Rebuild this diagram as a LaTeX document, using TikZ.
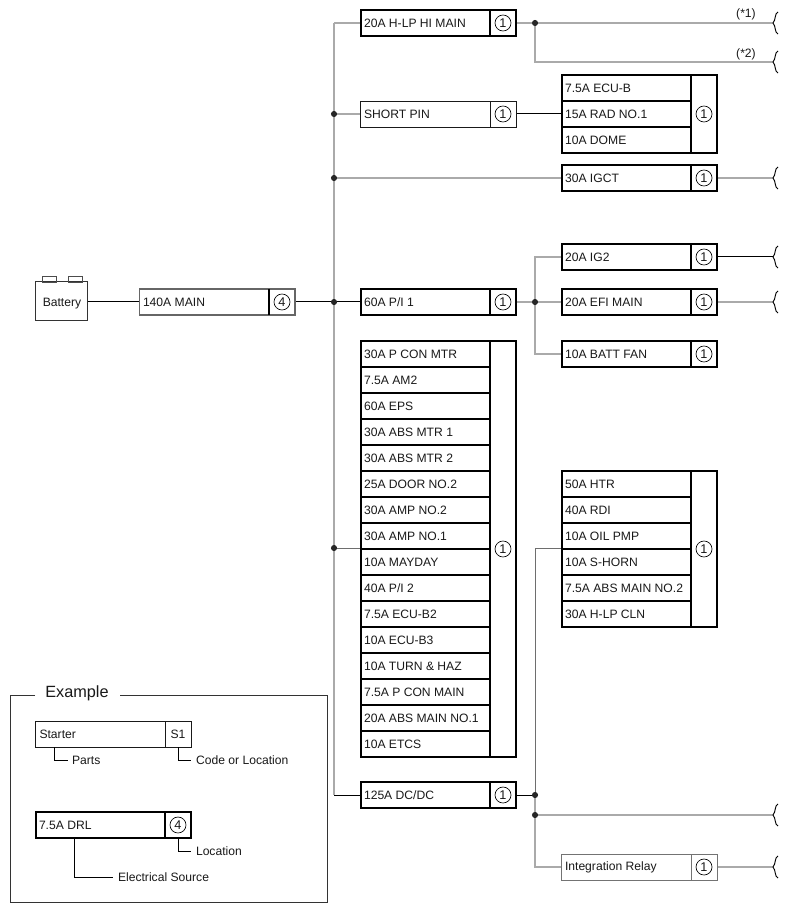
\documentclass[tikz,border=0pt]{standalone}
\usepackage{fontspec}
\usetikzlibrary{backgrounds}
\setmainfont{Liberation Sans}
\definecolor{busgray}{RGB}{170,170,170}
\definecolor{thingray}{RGB}{110,110,110}
\definecolor{txt}{RGB}{25,25,25}
\tikzset{x=0.75pt,y=-0.75pt,
 every node/.style={inner sep=0pt,outer sep=0pt,font=\fontsize{9.1pt}{10pt}\selectfont,text=txt},
 box/.style={draw=black!90,line width=0.7pt,fill=white,rectangle,anchor=north west},
 hbox/.style={draw=black,line width=1.5pt,fill=white,rectangle,anchor=north west},
 gbox/.style={draw=black!60,line width=1.1pt,fill=white,rectangle,anchor=north west},
 rbox/.style={draw=black!55,line width=0.7pt,fill=white,rectangle,anchor=north west},
 lab/.style={anchor=west},
 num/.style={circle,draw=black,line width=0.5pt,minimum size=12pt,font=\fontsize{9.5pt}{10pt}\selectfont},
 gw/.style={draw=busgray,line width=1.3pt},
 tw/.style={draw=thingray,line width=0.75pt},
 kw/.style={draw=black,line width=0.75pt},
 lw/.style={draw=black,line width=0.6pt},
 jn/.style={circle,fill=black!85,minimum size=4.6pt},
 brk/.style={draw=black,line width=0.7pt},
}
\newcommand{\fuse}[9]{%
 \node[#7,minimum width=#4*0.75pt-#2*0.75pt,minimum height=#5*0.75pt-#3*0.75pt] (#1) at (#2,#3) {};
 \node[#7,minimum width=#4*0.75pt-#6*0.75pt,minimum height=#5*0.75pt-#3*0.75pt] (#1n) at (#6,#3) {};
 \node[lab] (#1t) at (#2+3.5,#3/2+#5/2) {#8};
 \node[num] (#1c) at (#6/2+#4/2,#3/2+#5/2) {#9};
}
\newcommand{\squiggle}[1]{%
 \draw[brk,shift={(#1)}] (5,-11) .. controls (1.5,-10) and (3,-3) .. (0,0)
   .. controls (3,3) and (1.5,10) .. (5,11);
}
\begin{document}
\begin{tikzpicture}
\useasboundingbox (0,0) rectangle (788,912);
\coordinate (busT) at (334,23);
\coordinate (j1) at (334,114);
\coordinate (j2) at (334,178);
\coordinate (j3) at (334,302);
\coordinate (j4) at (334,548);
\coordinate (busB) at (334,795);
\coordinate (aT) at (535,23);
\coordinate (a2) at (535,62);
\coordinate (e1) at (773,23);
\coordinate (e2) at (773,62);
\coordinate (e3) at (773,178);
\coordinate (e4) at (773,257);
\coordinate (e5) at (773,302);
\coordinate (e6) at (773,815);
\coordinate (e7) at (773,867);
\coordinate (b1) at (535,257);
\coordinate (b2) at (535,302);
\coordinate (b3) at (535,354);
\coordinate (c1) at (535,795);
\coordinate (c2) at (535,815);
\coordinate (c3) at (535,867);
\coordinate (c0) at (535,548);
% fuses
\fuse{hi}{360.5}{10}{516}{36}{490}{hbox}{20A H-LP HI MAIN}{1}
\fuse{sp}{360.5}{101}{516}{127}{490}{box}{SHORT PIN}{1}
\fuse{pi}{360.5}{289}{516}{315}{490}{hbox}{60A P/I 1}{1}
\fuse{dc}{360.5}{782}{516}{808}{490}{hbox}{125A DC/DC}{1}
\fuse{ig}{561.5}{165}{717}{191}{691}{hbox}{30A IGCT}{1}
\fuse{igb}{561.5}{244}{717}{270}{691}{hbox}{20A IG2}{1}
\fuse{efi}{561.5}{289}{717}{315}{691}{hbox}{20A EFI MAIN}{1}
\fuse{fan}{561.5}{341}{717}{367}{691}{hbox}{10A BATT FAN}{1}
\fuse{rel}{561.5}{854}{717}{880}{691}{rbox}{Integration Relay}{1}
\fuse{mn}{139.5}{289}{295}{315}{269}{gbox}{140A MAIN}{4}
\draw[black,line width=1.3pt] (269,289) -- (269,315);
% stacks
\node[hbox,minimum width=116.6pt,minimum height=78*0.75pt] (sa) at (561.5,75) {};
\node[hbox,minimum width=19.5pt,minimum height=78*0.75pt] (san) at (691,75) {};
\node[num] (sac) at (704,114) {1};
\draw[line width=1.3pt] (561.5,101) -- (691,101) (561.5,127) -- (691,127);
\node[lab] (saa) at (565,88) {7.5A ECU-B};
\node[lab] (sab) at (565,114) {15A RAD NO.1};
\node[lab] (sad) at (565,140) {10A DOME};
%
\node[hbox,minimum width=116.6pt,minimum height=416*0.75pt] (sb) at (360.5,341) {};
\node[hbox,minimum width=19.5pt,minimum height=416*0.75pt] (sbn) at (490,341) {};
\node[num] (sbc) at (503,549) {1};
\foreach \n [count=\i from 1] in {30A P CON MTR,7.5A AM2,60A EPS,30A ABS MTR 1,30A ABS MTR 2,25A DOOR NO.2,30A AMP NO.2,30A AMP NO.1,10A MAYDAY,40A P/I 2,7.5A ECU-B2,10A ECU-B3,10A TURN \& HAZ,7.5A P CON MAIN,20A ABS MAIN NO.1,10A ETCS}{
  \node[lab] (sbl\i) at (364,341+26*\i-13) {\n};
  \ifnum\i<16 \draw[line width=1.3pt] (360.5,341+26*\i) -- (490,341+26*\i);\fi
}
%
\node[hbox,minimum width=116.6pt,minimum height=156*0.75pt] (sc) at (561.5,471) {};
\node[hbox,minimum width=19.5pt,minimum height=156*0.75pt] (scn) at (691,471) {};
\node[num] (scc) at (704,549) {1};
\foreach \n [count=\i from 1] in {50A HTR,40A RDI,10A OIL PMP,10A S-HORN,7.5A ABS MAIN NO.2,30A H-LP CLN}{
  \node[lab] (scl\i) at (565,471+26*\i-13) {\n};
  \ifnum\i<6 \draw[line width=1.3pt] (561.5,471+26*\i) -- (691,471+26*\i);\fi
}
% battery
\node[draw=black!80,line width=0.75pt,fill=white,minimum width=39.5pt,minimum height=39*0.75pt,anchor=north west] (bat) at (35,282) {};
\node (batt) at (62,303.5) {Battery};
\node[draw=black!70,line width=0.7pt,minimum width=10.5pt,minimum height=4.5pt,anchor=south west] (tpa) at (42,282) {};
\node[draw=black!70,line width=0.7pt,minimum width=10.5pt,minimum height=4.5pt,anchor=south west] (tpb) at (68,282) {};
% wires behind the boxes
\begin{scope}[on background layer]
\fill[white] (0,0) rectangle (788,912);
\draw[gw] (busT) -- (busB);
\draw[gw] (hi.west) -- (busT);
\draw[gw] (j1) -- (sp.west);
\draw[gw] (j2) -- (ig.west);
\draw[gw] (hin.east) -- (e1);
\draw[gw] (aT) -- (a2) -- (e2);
\draw[gw] (pin.east) -- (efi.west);
\draw[gw] (igb.west) -- (b1) -- (b3) -- (fan.west);
\draw[gw] (c1) -- (c3) -- (rel.west);
\draw[gw] (c2) -- (e6);
\draw[gw] (reln.east) -- (e7);
\draw[gw] (ign.east) -- (e3);
\draw[gw] (efin.east) -- (e5);
\draw[tw] (j4) -- (sb.west |- j4);
\draw[tw] (sc.west |- c0) -- (c0) -- (c1);
\draw[kw] (spn.east) -- (sab.west -| sa.west);
\draw[kw] (igbn.east) -- (e4);
\draw[kw] (dcn.east) -- (c1);
\draw[kw] (dc.west) -- (busB);
\draw[kw] (mnn.east) -- (pi.west);
\draw[kw] (bat.east |- mn.west) -- (mn.west);
\end{scope}
% dots
\foreach \c in {j1,j2,j3,j4,aT,b2,c1,c2}{\node[jn] at (\c) {};}
% squiggles
\foreach \c in {e1,e2,e3,e4,e5,e6,e7}{\squiggle{\c}}
\node (sta) at (746,14) {(*1)};
\node (stb) at (746,54) {(*2)};
% legend
\draw[draw=black!80,line width=0.7pt] (35,695) -- (10,695) -- (10,902) -- (327,902) -- (327,695) -- (120,695);
\node[font=\fontsize{12.2pt}{13pt}\selectfont] (ex) at (77,693.5) {Example};
\node[box,minimum width=116.6pt,minimum height=26*0.75pt] (st) at (35.5,721) {};
\node[box,minimum width=19.5pt,minimum height=26*0.75pt] (stn) at (165,721) {};
\node[lab] (stt) at (39.5,734) {Starter};
\node (sto) at (178,734) {S1};
\fuse{drl}{35.5}{812}{191}{838}{165}{hbox}{7.5A DRL}{4}
\node[lab] (pt) at (72,760) {Parts};
\node[lab] (cd) at (196,760) {Code or Location};
\node[lab] (lc) at (196,851) {Location};
\node[lab] (es) at (118,877) {Electrical Source};
\coordinate (ptl) at (68,760);
\coordinate (cdl) at (191,760);
\coordinate (lcl) at (191,851);
\coordinate (esl) at (113,877);
\draw[lw] (54,747) |- (ptl);
\draw[lw] (178,747) |- (cdl);
\draw[lw] (178,838) |- (lcl);
\draw[lw] (74.5,838) |- (esl);
\end{tikzpicture}
\end{document}
